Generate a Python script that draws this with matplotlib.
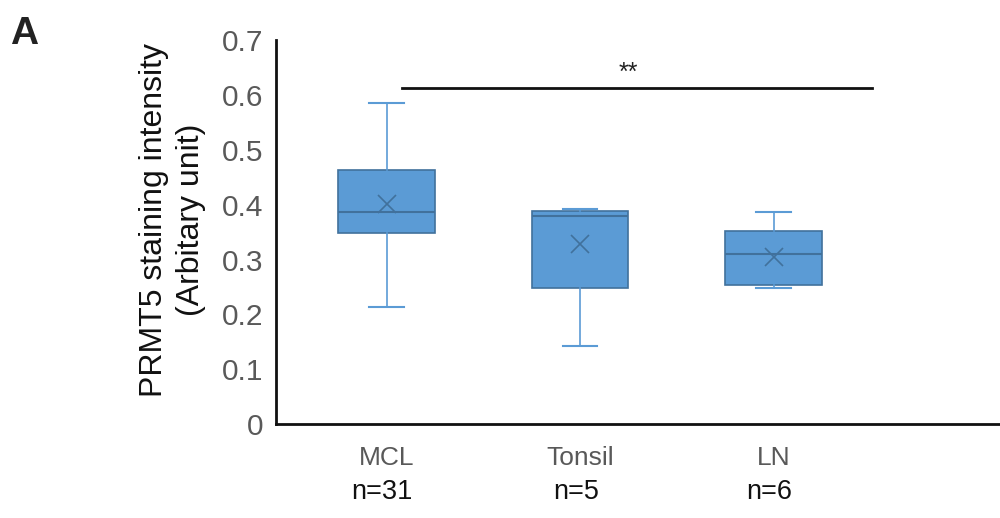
import numpy as np
import matplotlib.pyplot as plt

plt.rcParams["font.family"] = ["Liberation Sans", "DejaVu Sans"]

groups = ["MCL", "Tonsil", "LN"]
n_counts = [31, 5, 6]
whislo = [0.214, 0.142, 0.248]
q1 = [0.349, 0.248, 0.254]
med = [0.386, 0.380, 0.310]
q3 = [0.464, 0.389, 0.352]
whishi = [0.585, 0.392, 0.386]
means = [0.402, 0.329, 0.305]
sig_y = 0.613
sig_label = "**"

fill = "#5B9BD5"
edge = "#41719C"

stats = []
for i in range(len(groups)):
    stats.append(dict(label=groups[i], whislo=whislo[i], q1=q1[i], med=med[i],
                      q3=q3[i], whishi=whishi[i], mean=means[i], fliers=[]))

fig = plt.figure(figsize=(10, 5.18), dpi=100)
ax = fig.add_axes([0.276, 0.1815, 0.724, 0.7405])
pos = np.arange(1, len(groups) + 1)
ax.bxp(stats, positions=pos, widths=0.5, capwidths=0.18, patch_artist=True,
       showmeans=True, showfliers=False,
       boxprops=dict(facecolor=fill, edgecolor=edge, linewidth=1.2),
       medianprops=dict(color=edge, linewidth=1.5),
       whiskerprops=dict(color=fill, linewidth=1.2),
       capprops=dict(color=fill, linewidth=1.5),
       meanprops=dict(marker="x", markeredgecolor=edge, markersize=13, markeredgewidth=1.2))

ax.set_xlim(0.429, 4.17)
ax.set_ylim(0, 0.7)
ax.set_yticks(np.arange(0, 0.71, 0.1))
ax.set_yticklabels(["0"] + ["%.1f" % v for v in np.arange(0.1, 0.71, 0.1)])
ax.set_xticks(pos)
ax.set_xticklabels(groups, fontsize=19)
ax.tick_params(axis="both", length=0, labelcolor="#595959")
ax.tick_params(axis="y", pad=9, labelsize=21.5)
ax.tick_params(axis="x", pad=16)
for s in ["top", "right"]:
    ax.spines[s].set_visible(False)
for s in ["left", "bottom"]:
    ax.spines[s].set_linewidth(2)
    ax.spines[s].set_color("#111111")

for i, n in enumerate(n_counts):
    ax.annotate("n=%d" % n, xy=(pos[i], 0), xycoords=("data", "axes fraction"),
                xytext=(-3, -49), textcoords="offset points", ha="center", va="center",
                fontsize=19.5, color="#111111")

ax.plot([1.079, 3.509], [sig_y, sig_y], color="#111111", lw=2)
ax.text(2.25, sig_y + 0.006, sig_label, ha="center", va="bottom", fontsize=18, color="#222222")

ax.set_ylabel("PRMT5 staining intensity\n(Arbitary unit)", fontsize=23, color="#111111",
              linespacing=1.3)
ax.yaxis.set_label_coords(-0.097, 0.532)
fig.text(0.01, 0.97, "A", fontsize=28, fontweight="bold", va="top", ha="left", color="#222222")

fig.savefig("out.png", dpi=100)
